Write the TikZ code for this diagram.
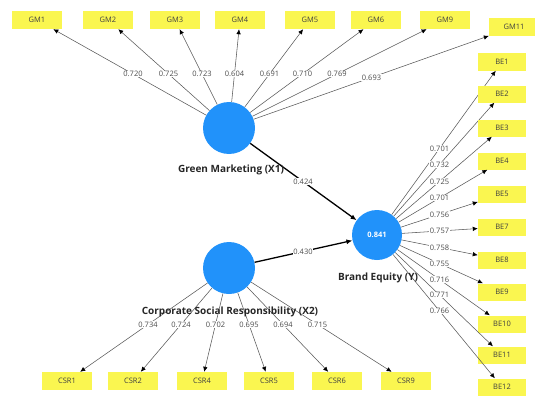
\documentclass[tikz,border=0pt]{standalone}
\usepackage{fontspec}
\setmainfont{Open Sans}
\usetikzlibrary{arrows.meta,calc}
\definecolor{lvblue}{RGB}{33,146,250}
\definecolor{indyellow}{RGB}{250,246,80}
\begin{document}
\begin{tikzpicture}[x=1pt,y=-1pt,
  indbox/.style={fill=indyellow, minimum width=50pt, minimum height=18pt, inner sep=0pt, font=\fontsize{7.5}{8}\selectfont, text=black!75},
  lvc/.style={circle, fill=lvblue, minimum size=52pt, inner sep=0pt},
  lbl/.style={fill=white, inner sep=0.5pt, font=\fontsize{7.5}{8}\selectfont, text=black!70},
  ldg/.style={draw=black!65, line width=0.55pt, -{Latex[length=5pt,width=4.5pt,color=black]}},
  pathc/.style={draw=black, line width=1.3pt, -{Latex[length=6pt,width=5pt]}},
  cname/.style={font=\bfseries\fontsize{10}{11}\selectfont, text=black!85}]
\useasboundingbox (0,0) rectangle (535,396);
% latent variables
\node[lvc] (gm) at (229,128) {};
\node[lvc] (csr) at (229,268) {};
\node[lvc, minimum size=50pt, text=white, font=\bfseries\fontsize{7.5}{8}\selectfont] (be) at (377,235) {0.841};
% structural paths
\draw[pathc] (gm) -- (be);
\draw[pathc] (csr) -- (be);
% indicators
\foreach \n/\x/\y in {GM1/37/20, GM2/108/20, GM3/175/20, GM4/240/20, GM5/310/20, GM6/376/20, GM9/445/20, GM11/514/27} {
  \node[indbox] (\n) at (\x,\y) {\n};
  \draw[ldg] (gm) -- (\n);
}
\foreach \n/\x/\y in {CSR1/67/381, CSR2/133/381, CSR4/202/381, CSR5/269/381, CSR6/337/381, CSR9/406/381} {
  \node[indbox] (\n) at (\x,\y) {\n};
  \draw[ldg] (csr) -- (\n);
}
\foreach \n/\y in {BE1/62, BE2/94, BE3/128, BE4/161, BE5/194, BE7/227, BE8/260, BE9/292, BE10/324, BE11/355, BE12/387} {
  \node[indbox, minimum width=48pt, minimum height=17pt] (\n) at (502,\y) {\n};
  \draw[ldg] (be) -- (\n);
}
% construct names
\node[cname] (gmname) at (231,170) {Green Marketing (X1)};
\node[cname] (csrname) at (230,312) {Corporate Social Responsibility (X2)};
\node[cname] (bename) at (378,278) {Brand Equity (Y)};
% loadings and path coefficients
\node[lbl] (p1) at ($(gm)!0.5!(be)$) {0.424};
\node[lbl] (p2) at ($(csr)!0.5!(be)$) {0.430};
\foreach \n/\v in {GM1/0.720, GM2/0.725, GM3/0.723, GM4/0.604, GM5/0.691, GM6/0.710, GM9/0.769, GM11/0.693} {
  \node[lbl] (l\n) at ($(gm)!0.5!(\n)$) {\v};
}
\foreach \n/\v in {CSR1/0.734, CSR2/0.724, CSR4/0.702, CSR5/0.695, CSR6/0.694, CSR9/0.715} {
  \node[lbl] (l\n) at ($(csr)!0.5!(\n)$) {\v};
}
\foreach \n/\v in {BE1/0.701, BE2/0.732, BE3/0.725, BE4/0.701, BE5/0.756, BE7/0.757, BE8/0.758, BE9/0.755, BE10/0.716, BE11/0.771, BE12/0.766} {
  \node[lbl] (l\n) at ($(be)!0.5!(\n)$) {\v};
}
\end{tikzpicture}
\end{document}
